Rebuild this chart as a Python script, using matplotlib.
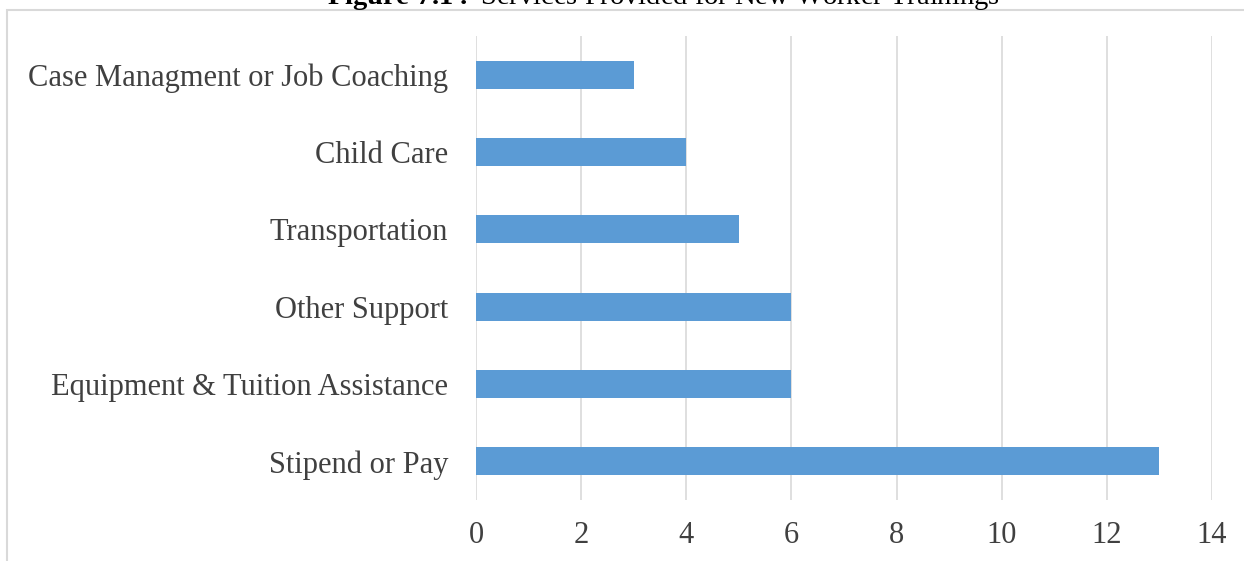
import matplotlib.pyplot as plt
from matplotlib.patches import Rectangle

plt.rcParams['font.family'] = ['Liberation Serif', 'DejaVu Serif']
plt.rcParams['mathtext.fontset'] = 'custom'
plt.rcParams['mathtext.rm'] = 'Liberation Serif'
plt.rcParams['mathtext.bf'] = 'Liberation Serif:bold'

services = ["Stipend or Pay", "Equipment & Tuition Assistance", "Other Support",
            "Transportation", "Child Care", "Case Managment or Job Coaching"]
counts = [13, 6, 6, 5, 4, 3]
x_ticks = [0, 2, 4, 6, 8, 10, 12, 14]

W, H = 1244, 561
fig = plt.figure(figsize=(W / 100, H / 100), dpi=100)

# chart frame (only top and left edges fall inside the figure)
frame = Rectangle((7 / W, -0.1), 1.2, 1 - 10 / H + 0.1, transform=fig.transFigure,
                  fill=False, edgecolor='#d9d9d9', linewidth=1.5)
fig.add_artist(frame)

# title sits mostly above the top edge
fig.text(0.533, 1 - 4 / H, r"$\bf{Figure\ 7.1:}$ Services Provided for New Worker Trainings",
         ha='center', va='baseline', fontsize=20.5, color='#000000')

ax = fig.add_axes([476 / W, 1 - 500 / H, (1212 - 476) / W, (500 - 36) / H])
ax.barh(range(len(services)), counts, height=0.36, color='#5b9bd5', zorder=3)
ax.set_xlim(0, 14)
ax.set_ylim(-0.5, len(services) - 0.5)
ax.set_xticks(x_ticks)
ax.set_yticks(range(len(services)))
ax.set_yticklabels(services)
ax.grid(axis='x', color='#d9d9d9', linewidth=1.2, zorder=0)
for s in ax.spines.values():
    s.set_visible(False)
ax.tick_params(axis='both', length=0, labelsize=22, colors='#404040')
ax.tick_params(axis='x', pad=15)
ax.tick_params(axis='y', pad=20)

fig.savefig("out.png", dpi=100)
